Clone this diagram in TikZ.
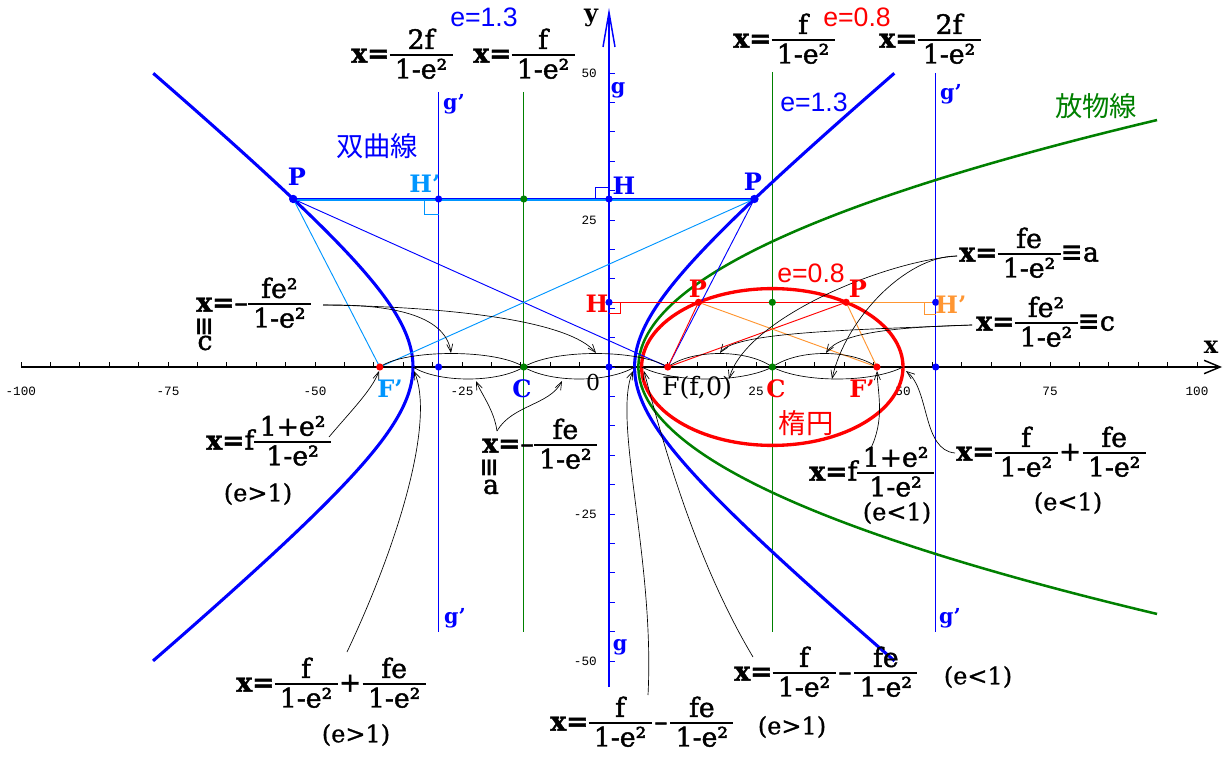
\documentclass[tikz,border=0pt]{standalone}
\usepackage{fontspec}
\usepackage{graphicx}
\setmainfont{DejaVu Serif}
\newfontfamily\eqf[FakeBold=1.6]{DejaVu Serif}
\newfontfamily\cdf[FakeBold=0.8]{DejaVu Serif}
\newfontfamily\lsans{Liberation Sans}
\newfontfamily\lmono{Liberation Mono}
\newfontfamily\cjk{Noto Sans CJK JP}
\newfontfamily\dsans{DejaVu Sans}
\usetikzlibrary{arrows.meta}
\definecolor{hb}{RGB}{0,0,255}
\definecolor{lb}{RGB}{0,150,255}
\definecolor{gr}{RGB}{0,128,0}
\definecolor{rd}{RGB}{255,0,0}
\definecolor{og}{RGB}{255,150,50}
\newcommand\fr[2]{\raisebox{-1pt}{\ensuremath{\vcenter{\hbox{\def\arraystretch{0.78}\begin{tabular}{@{\hspace{4pt}}c@{\hspace{4pt}}}#1\\\noalign{\vskip-1pt\hrule height 1.2pt\vskip 2pt}#2\end{tabular}}}}}}
\newcommand\eqv{{\dsans\bfseries ≡}}
\newcommand\xq{{\bfseries x=}}
\begin{document}
\begin{tikzpicture}[x=0.75pt,y=-0.75pt,
  eqn/.style={font=\eqf\fontsize{20}{22}\selectfont, inner sep=0pt, anchor=west},
  cond/.style={font=\cdf\fontsize{18}{20}\selectfont, inner sep=0pt},
  lbl/.style={font=\fontsize{18}{20}\selectfont\bfseries, inner sep=0pt},
  gl/.style={font=\fontsize{15.5}{17}\selectfont\bfseries, inner sep=0pt, text=hb},
  esans/.style={font=\lsans\fontsize{20}{22}\selectfont, inner sep=0pt},
  cj/.style={font=\cjk\fontsize{20.5}{22}\selectfont, inner sep=0pt},
  tk/.style={font=\lmono\fontsize{9.5}{10}\selectfont, inner sep=0pt},
  veq/.style={inner sep=0pt, rotate=90, font=\dsans\fontsize{19}{19}\selectfont\bfseries},
  ann/.style={line width=0.5pt, -{Straight Barb[length=6pt,width=4.5pt]}},
  brk/.style={line width=0.5pt},
  vline/.style={line width=0.8pt},
  thin/.style={line width=0.7pt},
]
\fill[white] (0,0) rectangle (1231,759);
\useasboundingbox (0,0) rectangle (1231,759);
% key points
\coordinate (O) at (609,367);
\coordinate (F) at (667.8,367);
\coordinate (hC) at (523.8,367);
\coordinate (hG) at (438.6,367);
\coordinate (hFp) at (379.8,367);
\coordinate (hV1) at (413,367);
\coordinate (hV2) at (634.6,367);
\coordinate (hPL) at (293.2,199);
\coordinate (hPR) at (754.4,199);
\coordinate (hH) at (609,199);
\coordinate (hHp) at (438.6,199);
\coordinate (hM) at (523.8,199);
\coordinate (eC) at (772.3,367);
\coordinate (eG) at (935.7,367);
\coordinate (eFp) at (876.9,367);
\coordinate (eV1) at (641.7,367);
\coordinate (eV2) at (903,367);
\coordinate (ePL) at (698.5,302.3);
\coordinate (ePR) at (846.1,302.3);
\coordinate (eH) at (609,302.3);
\coordinate (eHp) at (935.7,302.3);
\coordinate (eM) at (772.3,302.3);
% vertical lines
\draw[hb,vline] (438.6,92) -- (438.6,632);
\draw[gr,vline] (523.8,92) -- (523.8,632);
\draw[gr,vline] (772.3,72) -- (772.3,632);
\draw[hb,vline] (935.7,73) -- (935.7,632);
% axes
\draw[line width=1.1pt, -{Straight Barb[length=12pt,width=10pt]}] (20.8,367) -- (1222,367);
\foreach \i in {-20,...,20} \draw[line width=0.7pt] ({609+29.4*\i},367) -- ++(0,-5);
\draw[hb, line width=1.1pt, -{Straight Barb[length=26pt,width=9pt]}] (609,687) -- (609,8);
\foreach \i in {-10,...,10} \draw[hb,line width=0.7pt] (609,{367-29.4*\i}) -- ++(6,0);
\foreach \v/\p [count=\k] in {-100/20.8,-75/168,-50/315,-25/462,25/756,50/903,75/1050,100/1197}
  \node[tk] (tx\k) at (\p,391) {\v};
\node[tk,anchor=east] (ty1) at (597,73) {50};
\node[tk,anchor=east] (ty2) at (597,220) {25};
\node[tk,anchor=east] (ty3) at (597,514) {-25};
\node[tk,anchor=east] (ty4) at (597,661) {-50};
% conics
\draw[gr, line width=1.9pt] plot[domain=-42:42, samples=100, smooth] ({609+5.88*(5+\x*\x/20)},{367-5.88*\x});
\draw[rd, line width=2.5pt] (eC) ellipse [x radius=130.7, y radius=78.4];
\draw[hb, line width=2.3pt] plot[domain=-1.878:1.878, samples=100, smooth] ({609+5.88*(-14.4928+18.8406*cosh(\x))},{367-5.88*15.65*sinh(\x)});
\draw[hb, line width=2.3pt] plot[domain=-1.878:1.878, samples=100, smooth] ({609+5.88*(-14.4928-18.8406*cosh(\x))},{367-5.88*15.65*sinh(\x)});
% hyperbola construction
\draw[lb,thin] (hPL) -- (hFp);
\draw[hb,thin] (hPL) -- (F);
\draw[lb,thin] (hPR) -- (hFp);
\draw[hb,thin] (hPR) -- (F);
\draw[lb,line width=1pt] ([yshift=-0.7pt]hPL) -- ([yshift=-0.7pt]hPR);
\draw[hb,line width=1pt] ([yshift=0.4pt]hPL) -- ([yshift=0.4pt]hPR);
\draw[hb,thin] (595,199) -- (595,187) -- (609,187);
\draw[lb,thin] (424,199) -- (424,214) -- (438.6,214);
% ellipse construction
\draw[og,thin] (ePL) -- (eHp);
\draw[rd,thin] (eH) -- (ePR);
\draw[rd,thin] (F) -- (ePL);
\draw[rd,thin] (F) -- (ePR);
\draw[og,thin] (ePL) -- (eFp);
\draw[og,thin] (ePR) -- (eFp);
\draw[rd,thin] (609,313.5) -- (620.5,313.5) -- (620.5,302.3);
\draw[og,thin] (924,302.3) -- (924,314) -- (935.7,314);
% brackets
\draw[brk] (hFp) .. controls (405,349) and (497,349) .. (hC);
\draw[brk] (hC) .. controls (553,349) and (638,349) .. (F);
\draw[brk] (hV1) .. controls (438,383) and (498,383) .. (hC);
\draw[brk] (hC) .. controls (550,383) and (608,383) .. (hV2);
\draw[brk] (F) .. controls (692,349) and (747,349) .. (eC);
\draw[brk] (eC) .. controls (798,349) and (851,349) .. (eFp);
\draw[brk] (eV1) .. controls (672,383) and (742,383) .. (eC);
\draw[brk] (eC) .. controls (802,383) and (872,383) .. (eV2);
% dots
\foreach \p in {hH,hHp,O,hG,eH,eHp,eG} \fill[hb] (\p) circle[radius=3.6];
\foreach \p in {hPL,hPR} \fill[hb] (\p) circle[radius=4.2];
\foreach \p in {hM,hC,eM,eC} \fill[gr] (\p) circle[radius=3.6];
\foreach \p in {hFp,F,eFp,ePL,ePR} \fill[rd] (\p) circle[radius=3.6];
% formula labels
\node[eqn] (t1) at (351,57) {\xq\fr{2f}{1-e²}};
\node[eqn] (t2) at (473,57) {\xq\fr{f}{1-e²}};
\node[eqn] (t3) at (733,42) {\xq\fr{f}{1-e²}};
\node[eqn] (t4) at (879,42) {\xq\fr{2f}{1-e²}};
\node[eqn] (lc) at (196,306) {\xq–\fr{fe²}{1-e²}};
\node[veq] (lceq) at (205,327) {≡};
\node[eqn, anchor=center] (lcc) at (205,343) {c};
\node[eqn] (la) at (482,447) {\xq–\fr{fe}{1-e²}};
\node[veq] (laeq) at (490,468) {≡};
\node[eqn, anchor=center] (laa) at (491,487) {a};
\node[eqn] (lf1) at (206,444) {\xq f\fr{1+e²}{1-e²}};
\node[cond] (lf1e) at (258,494) {(e>1)};
\node[eqn] (lf2) at (236,686) {\xq\fr{f}{1-e²}\hspace{1pt}+\hspace{1pt}\fr{fe}{1-e²}};
\node[cond] (lf2e) at (356,735) {(e>1)};
\node[eqn] (lf3) at (550,725) {\xq\fr{f}{1-e²}\hspace{2pt}–\hspace{2pt}\fr{fe}{1-e²}};
\node[cond] (lf3e) at (792,727) {(e>1)};
\node[eqn] (lf4) at (734,675) {\xq\fr{f}{1-e²}\hspace{2pt}–\hspace{2pt}\fr{fe}{1-e²}};
\node[cond] (lf4e) at (978,677) {(e<1)};
\node[eqn] (lf5) at (809,475) {\xq f\fr{1+e²}{1-e²}};
\node[cond] (lf5e) at (897,513) {(e<1)};
\node[eqn] (lf6) at (956,455) {\xq\fr{f}{1-e²}\hspace{1pt}+\hspace{1pt}\fr{fe}{1-e²}};
\node[cond] (lf6e) at (1068,503) {(e<1)};
\node[eqn] (lfa) at (959,256) {\xq\fr{fe}{1-e²}\eqv a};
\node[eqn] (lfc) at (976,325) {\xq\fr{fe²}{1-e²}\eqv c};
% annotation start points
\coordinate (cLs) at (323,305);
\coordinate (aLs) at (497,431);
\coordinate (aRs) at (957,256);
\coordinate (cRs) at (972,325);
\coordinate (f1s) at (329,437);
\coordinate (f2s) at (347,652);
\coordinate (f3s) at (648,695);
\coordinate (f4s) at (753,657);
\coordinate (f5s) at (870,450);
\coordinate (f6s) at (955,453);
% annotation arrows
\draw[ann] (cLs) .. controls (400,304) and (446,318) .. (451,353);
\draw[ann] (cLs) .. controls (460,307) and (570,322) .. (596,353);
\draw[ann] (aLs) .. controls (494,410) and (482,395) .. (476,381);
\draw[ann] (aLs) .. controls (512,405) and (550,405) .. (562,381);
\draw[ann] (aRs) .. controls (905,256) and (845,320) .. (832,379);
\draw[ann] (aRs) .. controls (880,262) and (745,320) .. (729,379);
\draw[ann] (cRs) .. controls (900,327) and (840,332) .. (826,353);
\draw[ann] (cRs) .. controls (850,330) and (735,332) .. (720,353);
\draw[ann] (f1s) .. controls (350,412) and (372,390) .. (379,371);
\draw[ann] (f2s) .. controls (400,540) and (435,420) .. (414,371);
\draw[ann] (f3s) .. controls (655,560) and (612,420) .. (633,371);
\draw[ann] (f4s) .. controls (695,560) and (662,440) .. (644,371);
\draw[ann] (f5s) .. controls (885,420) and (878,395) .. (877,371);
\draw[ann] (f6s) .. controls (922,450) and (930,390) .. (906,371);
% text labels
\node[esans, text=hb] (e1) at (484,17) {e=1.3};
\node[esans, text=rd] (e2) at (857,17) {e=0.8};
\node[esans, text=hb] (e3) at (814,102) {e=1.3};
\node[esans, text=rd] (e4) at (811,273) {e=0.8};
\node[lbl] (ly) at (591,18) {y};
\node[lbl] (lxa) at (1211,347) {x};
\node[gl] (g1) at (618,90) {g};
\node[gl] (g2) at (620,647) {g};
\node[gl] (gp1) at (454,104) {g’};
\node[gl] (gp2) at (455,618) {g’};
\node[gl] (gp3) at (951,94) {g’};
\node[gl] (gp4) at (950,618) {g’};
\node[cj, text=hb] (n1) at (377,146) {双曲線};
\node[cj, text=gr] (n2) at (1096,106) {放物線};
\node[cj, text=rd] (n3) at (806,423) {楕円};
\node[lbl, text=hb] (pLl) at (297,177) {P};
\node[lbl, text=hb] (pRl) at (753,182) {P};
\node[lbl, text=lb] (hHpl) at (425,184) {H’};
\node[lbl, text=hb] (hHl) at (624,186) {H};
\node[lbl, text=rd] (ePLl) at (698,289) {P};
\node[lbl, text=rd] (ePRl) at (858,289) {P};
\node[lbl, text=rd] (eHl) at (597,304) {H};
\node[lbl, text=og] (eHpl) at (951,305) {H’};
\node[lbl, text=lb] (hFpl) at (390,389) {F’};
\node[lbl, text=hb] (hCl) at (522,389) {C};
\node[font=\fontsize{16.5}{18}\selectfont, inner sep=0pt] (zero) at (593,382) {0};
\node[font=\fontsize{19}{21}\selectfont, inner sep=0pt] (Fl) at (697,388) {F(f,0)};
\node[lbl, text=rd] (eCl) at (776,389) {C};
\node[lbl, text=rd] (eFpl) at (862,389) {F’};
\end{tikzpicture}
\end{document}
